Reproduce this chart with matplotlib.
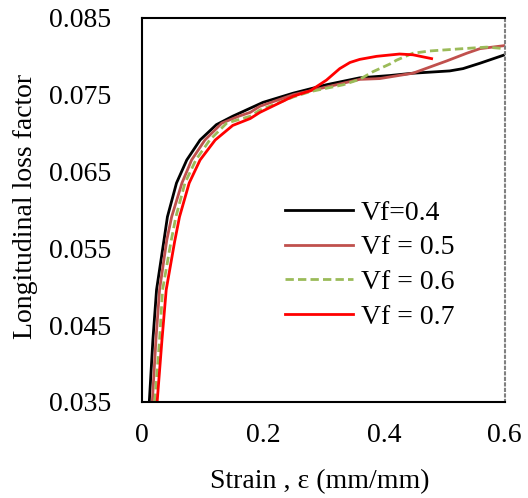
import matplotlib
matplotlib.use("Agg")
import matplotlib.pyplot as plt

plt.rcParams['font.family'] = ['Liberation Serif', 'DejaVu Serif']

# strain / loss factor
strain_04 = [0.012, 0.018, 0.024, 0.036, 0.042, 0.057, 0.074, 0.096, 0.123, 0.150, 0.175, 0.200,
             0.250, 0.305, 0.360, 0.410, 0.448, 0.509, 0.531, 0.559, 0.600]
loss_04 = [0.035, 0.0431, 0.0496, 0.0559, 0.0591, 0.0635, 0.0665, 0.0691, 0.0711, 0.0722, 0.0731, 0.0740,
           0.0752, 0.0763, 0.0772, 0.0775, 0.0778, 0.0781, 0.0784, 0.0791, 0.0802]

strain_05 = [0.017, 0.023, 0.029, 0.041, 0.049, 0.066, 0.082, 0.104, 0.132, 0.160, 0.179, 0.195,
             0.250, 0.305, 0.360, 0.393, 0.448, 0.476, 0.504, 0.537, 0.559, 0.600]
loss_05 = [0.035, 0.0431, 0.0496, 0.0561, 0.0591, 0.0635, 0.0665, 0.0691, 0.0713, 0.0722, 0.0727, 0.0735,
           0.0750, 0.0760, 0.0770, 0.0771, 0.0778, 0.0786, 0.0794, 0.0804, 0.0810, 0.0814]

strain_06 = [0.021, 0.029, 0.034, 0.048, 0.056, 0.071, 0.089, 0.112, 0.140, 0.179, 0.195, 0.250,
             0.278, 0.333, 0.360, 0.382, 0.410, 0.421, 0.448, 0.476, 0.531, 0.570, 0.600]
loss_06 = [0.035, 0.0431, 0.0496, 0.0559, 0.0591, 0.0635, 0.0665, 0.0691, 0.0713, 0.0722, 0.0730, 0.0747,
           0.0754, 0.0763, 0.0770, 0.0780, 0.0790, 0.0795, 0.0804, 0.0807, 0.0810, 0.0812, 0.0810]

strain_07 = [0.025, 0.033, 0.040, 0.054, 0.062, 0.078, 0.096, 0.121, 0.150, 0.179, 0.195, 0.250,
             0.278, 0.305, 0.327, 0.344, 0.360, 0.388, 0.426, 0.448, 0.479]
loss_07 = [0.035, 0.0431, 0.0496, 0.0559, 0.0591, 0.0635, 0.0665, 0.0691, 0.0710, 0.0719, 0.0727, 0.0748,
           0.0755, 0.0769, 0.0784, 0.0792, 0.0796, 0.0800, 0.0803, 0.0802, 0.0797]

x_ticks = [0, 0.2, 0.4, 0.6]
x_labels = ['0', '0.2', '0.4', '0.6']
y_ticks = [0.035, 0.045, 0.055, 0.065, 0.075, 0.085]
y_labels = ['0.035', '0.045', '0.055', '0.065', '0.075', '0.085']

fig = plt.figure(figsize=(5.28, 4.98), dpi=100)
ax = fig.add_axes([0.269, 0.193, 0.687, 0.771])

ax.plot(strain_04, loss_04, color='black', lw=2, label='Vf=0.4')
ax.plot(strain_05, loss_05, color='#C0504D', lw=2, label='Vf = 0.5')
ax.plot(strain_06, loss_06, color='#9BBB59', lw=2, ls=(0, (3, 1.5)), label='Vf = 0.6')
ax.plot(strain_07, loss_07, color='#FF0000', lw=2, label='Vf = 0.7')

ax.set_xlim(0, 0.6)
ax.set_ylim(0.035, 0.085)
ax.set_xticks(x_ticks)
ax.set_xticklabels(x_labels)
ax.set_yticks(y_ticks)
ax.set_yticklabels(y_labels)
ax.tick_params(axis='both', length=0, labelsize=20)
ax.tick_params(axis='y', pad=22)
ax.tick_params(axis='x', pad=15)

for s in ['left', 'top', 'bottom']:
    ax.spines[s].set_color('black')
    ax.spines[s].set_linewidth(1.5)
ax.spines['right'].set_color('#808080')
ax.spines['right'].set_linestyle(':')
ax.spines['right'].set_linewidth(1.5)

ax.set_xlabel('Strain , ε (mm/mm)', fontsize=20)
ax.xaxis.set_label_coords(0.49, -0.175)
ax.set_ylabel('Longitudinal loss factor', fontsize=20)
ax.yaxis.set_label_coords(-0.287, 0.51)

ax.legend(loc='upper left', bbox_to_anchor=(0.355, 0.561), frameon=False, fontsize=20,
          handlelength=2.45, handletextpad=0.3, labelspacing=0.33, borderpad=0)

fig.savefig('out.png', dpi=100)
